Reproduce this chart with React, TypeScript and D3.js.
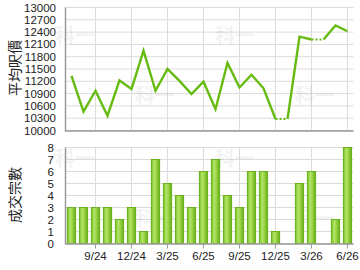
import React from "react";
import * as d3 from "d3";

const months = ["7/24","8/24","9/24","10/24","11/24","12/24","1/25","2/25","3/25","4/25","5/25","6/25","7/25","8/25","9/25","10/25","11/25","12/25","1/26","2/26","3/26","4/26","5/26","6/26"];
const tickLabels = ["9/24","12/24","3/25","6/25","9/25","12/25","3/26","6/26"];
const prices: (number | null)[] = [11330,10460,10970,10360,11220,11010,11950,10970,11500,11210,10890,11190,10520,11650,11050,11360,11030,10280,null,12290,12220,null,12560,12420];
const counts = [3,3,3,3,2,3,1,7,5,4,3,6,7,4,3,6,6,1,0,5,6,0,2,8];
const priceTicks = [10000,10300,10600,10900,11200,11500,11800,12100,12400,12700,13000];
const countTicks = [0,1,2,3,4,5,6,7,8];
const topTitle = "平均呎價";
const bottomTitle = "成交宗數";
const watermark = "科一";

export default function App() {
  const left = 65.5, right = 353.5;
  const x = d3.scaleBand<string>().domain(months).range([left, right]).padding(0);
  const cx = (m: string) => (x(m) as number) + x.bandwidth() / 2;
  const yTop = d3.scaleLinear().domain([10000, 13000]).range([130.5, 7.5]);
  const yBot = d3.scaleLinear().domain([0, 8]).range([243.5, 147.5]);
  const filled: number[] = [];
  prices.forEach((p, i) => filled.push(p == null ? filled[i - 1] : p));
  const green = "#66bb11";
  const grid = "#dcdcdc";
  const axis = "#999";
  const font = "'Liberation Sans', Arial, sans-serif";
  const cjk = "'Noto Sans CJK TC', sans-serif";
  const barW = 8.4;
  const segs = filled.slice(1).map((v, k) => {
    const i = k + 1;
    return { x1: cx(months[i - 1]), y1: yTop(filled[i - 1]), x2: cx(months[i]), y2: yTop(v), dotted: prices[i] == null };
  });
  const solidSegs: string[] = [];
  let cur: [number, number][] = [];
  segs.forEach((s) => {
    if (s.dotted) {
      if (cur.length) solidSegs.push(d3.line()(cur) as string);
      cur = [];
    } else {
      if (!cur.length) cur.push([s.x1, s.y1]);
      cur.push([s.x2, s.y2]);
    }
  });
  if (cur.length) solidSegs.push(d3.line()(cur) as string);
  const wm = (tx: number, ty: number, key: string) => (
    <text key={key} x={tx} y={ty} fontFamily={cjk} fontWeight="bold" fontSize={20} fill="#000" opacity={0.045}>{watermark}</text>
  );
  return (
    <svg width={360} height={270} style={{ position: "absolute", left: 0, top: 0, background: "#fff" }}>
      <defs>
        <linearGradient id="barg" x1="0" x2="1" y1="0" y2="0">
          <stop offset="0" stopColor="#6fbf1c" />
          <stop offset="0.35" stopColor="#b6e46a" />
          <stop offset="0.6" stopColor="#9bd444" />
          <stop offset="1" stopColor="#5fae12" />
        </linearGradient>
      </defs>
      {/* top chart grid */}
      {priceTicks.map((t) => (
        <line key={"hg" + t} x1={left} x2={right} y1={yTop(t)} y2={yTop(t)} stroke={grid} strokeWidth={1} />
      ))}
      {tickLabels.map((m) => (
        <line key={"vg" + m} x1={cx(m)} x2={cx(m)} y1={yTop(13000)} y2={yTop(10000)} stroke={grid} strokeWidth={1} />
      ))}
      {wm(55, 43, "w1")}{wm(215, 43, "w2")}{wm(135, 103, "w3")}{wm(295, 103, "w4")}
      <line x1={left} x2={left} y1={yTop(13000)} y2={yTop(10000) + 1} stroke={axis} strokeWidth={1.5} />
      <line x1={left} x2={right} y1={yTop(10000) + 0.5} y2={yTop(10000) + 0.5} stroke={axis} strokeWidth={1.5} />
      {priceTicks.map((t) => (
        <text key={"pt" + t} x={56} y={yTop(t) + 4} textAnchor="end" fontFamily={font} fontSize={11.5} fill="#222">{t}</text>
      ))}
      {solidSegs.map((d, i) => (
        <path key={"ls" + i} d={d} fill="none" stroke={green} strokeWidth={2.4} strokeLinejoin="miter" />
      ))}
      {segs.filter((s) => s.dotted).map((s, i) => (
        <line key={"ld" + i} x1={s.x1} y1={s.y1} x2={s.x2} y2={s.y2} stroke={green} strokeWidth={2.2} strokeDasharray="2,2" />
      ))}
      <text transform={`translate(20,${68}) rotate(-90)`} textAnchor="middle" fontFamily={cjk} fontSize={14} fill="#222">{topTitle}</text>

      {/* bottom chart */}
      {countTicks.map((t) => (
        <line key={"bg" + t} x1={left} x2={right} y1={yBot(t)} y2={yBot(t)} stroke={grid} strokeWidth={1} />
      ))}
      {tickLabels.map((m) => (
        <line key={"bvg" + m} x1={cx(m)} x2={cx(m)} y1={yBot(8)} y2={yBot(0)} stroke={grid} strokeWidth={1} />
      ))}
      {wm(55, 166, "w5")}{wm(215, 166, "w6")}{wm(135, 226, "w7")}{wm(295, 226, "w8")}
      {counts.map((c, i) => c > 0 ? (
        <rect key={"b" + i} x={cx(months[i]) - barW / 2} y={yBot(c)} width={barW} height={yBot(0) - yBot(c)} fill="url(#barg)" stroke="#5aa80a" strokeWidth={0.8} />
      ) : null)}
      <line x1={left} x2={left} y1={yBot(8)} y2={yBot(0) + 1} stroke={axis} strokeWidth={1.5} />
      <line x1={left} x2={right} y1={yBot(0) + 0.5} y2={yBot(0) + 0.5} stroke={axis} strokeWidth={1.5} />
      {tickLabels.map((m) => (
        <line key={"tk" + m} x1={cx(m)} x2={cx(m)} y1={yBot(0) + 1} y2={yBot(0) + 5} stroke={axis} strokeWidth={1} />
      ))}
      {countTicks.map((t) => (
        <text key={"ct" + t} x={54} y={yBot(t) + 4} textAnchor="end" fontFamily={font} fontSize={11.5} fill="#222">{t}</text>
      ))}
      {tickLabels.map((m) => (
        <text key={"tl" + m} x={cx(m)} y={260} textAnchor="middle" fontFamily={font} fontSize={11.5} fill="#222">{m}</text>
      ))}
      <text transform={`translate(20,${195}) rotate(-90)`} textAnchor="middle" fontFamily={cjk} fontSize={14} fill="#222">{bottomTitle}</text>
    </svg>
  );
}
